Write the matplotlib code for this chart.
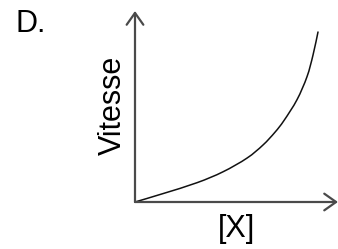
import matplotlib
matplotlib.use("Agg")
import matplotlib.pyplot as plt
from matplotlib.path import Path
from matplotlib.patches import PathPatch

# Curve values (arbitrary units: [X] vs Vitesse)
conc = [0, 28, 62, 88, 112, 128, 140, 149, 162, 172, 178, 183]
vitesse = [0, 8.4, 19.3, 30.2, 43.9, 57, 69.8, 81.5, 102.3, 125.3, 146.9, 170]

panel_label = "D."
x_label = "[X]"
y_label = "Vitesse"

W, H = 338, 249
fig = plt.figure(figsize=(W / 100, H / 100), dpi=100)
ox, oy = 135, 202      # origin in pixels (from top)
xend, ytop = 338, 11
ax = fig.add_axes([ox / W, (H - oy) / H, (xend - ox) / W, (oy - ytop) / H])
ax.set_xlim(0, xend - ox)
ax.set_ylim(0, oy - ytop)
ax.axis("off")

axis_col = "#4a4a4a"
arrow = dict(arrowstyle="->,head_length=0.85,head_width=0.6", color=axis_col, lw=1.6,
             shrinkA=0, shrinkB=0)
ax.annotate("", xy=(xend - ox, 0), xytext=(0, 0), arrowprops=arrow, annotation_clip=False)
ax.annotate("", xy=(0, oy - ytop), xytext=(0, 0), arrowprops=arrow, annotation_clip=False)

# smooth rendering of the read points (Catmull-Rom as cubic Bezier segments)
pts = list(zip(conc, vitesse))
verts = [pts[0]]
codes = [Path.MOVETO]
n = len(pts)
for i in range(n - 1):
    p0 = pts[i - 1] if i > 0 else pts[i]
    p1 = pts[i]
    p2 = pts[i + 1]
    p3 = pts[i + 2] if i + 2 < n else pts[i + 1]
    c1 = (p1[0] + (p2[0] - p0[0]) / 6, p1[1] + (p2[1] - p0[1]) / 6)
    c2 = (p2[0] - (p3[0] - p1[0]) / 6, p2[1] - (p3[1] - p1[1]) / 6)
    verts += [c1, c2, p2]
    codes += [Path.CURVE4] * 3
ax.add_patch(PathPatch(Path(verts, codes), facecolor="none", edgecolor="#111111",
                       lw=1.1, capstyle="round", clip_on=False))

font = "Liberation Sans"
fig.text(15 / W, 1 - 24 / H, panel_label, fontsize=22, family=font, ha="left", va="center")
fig.text(113 / W, 1 - 105 / H, y_label, fontsize=22, family=font, rotation=90,
         ha="center", va="center")
fig.text(236 / W, 1 - 229 / H, x_label, fontsize=22, family=font, ha="center", va="center")

fig.savefig("out.png", dpi=100)
